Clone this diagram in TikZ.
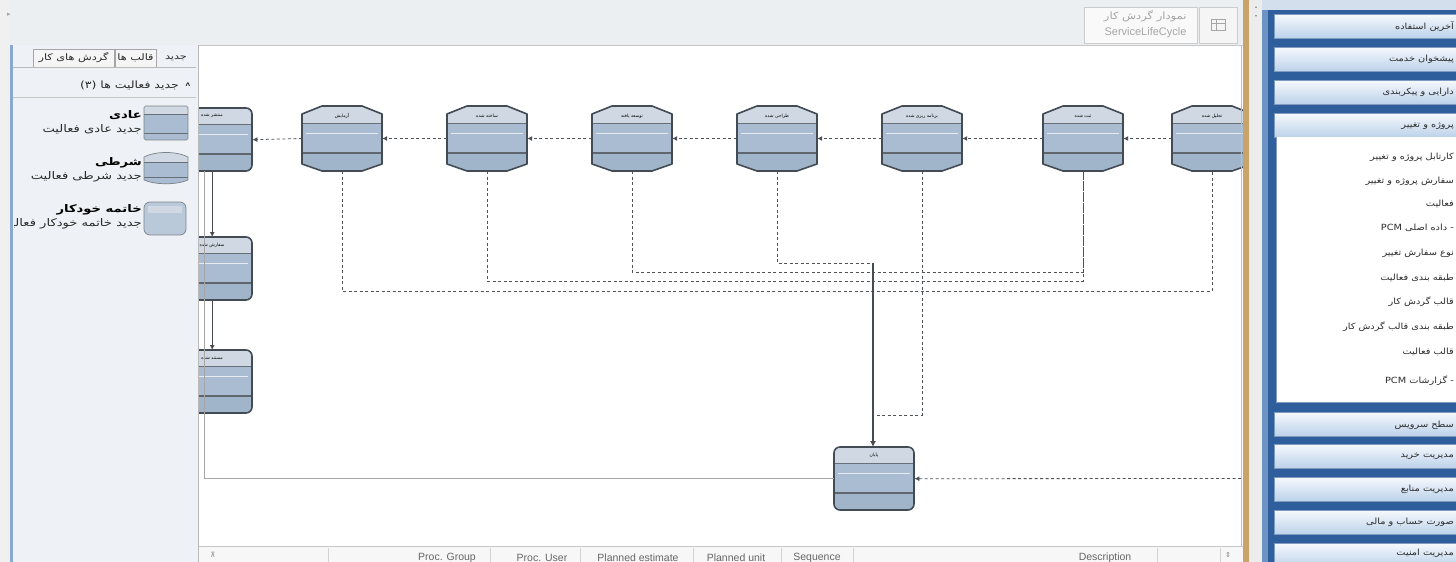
\documentclass[tikz,border=0pt]{standalone}
\usepackage{fontspec}
\setmainfont{Liberation Sans}
\newfontfamily\fa[Script=Arabic]{DejaVu Sans}
\newfontfamily\fal[Script=Arabic,FakeStretch=1.25]{DejaVu Sans}
\newfontfamily\far[Script=Arabic,FakeStretch=1.15]{DejaVu Sans}
\TeXXeTstate=1
\usetikzlibrary{arrows.meta}
\definecolor{topbg}{HTML}{ECEFF2}
\definecolor{panelbg}{HTML}{EEF2F6}
\definecolor{hdrc}{HTML}{CFD8E3}
\definecolor{bdyc}{HTML}{A9BCD1}
\definecolor{btmc}{HTML}{A1B5CA}
\definecolor{edgec}{HTML}{434B55}
\definecolor{connc}{HTML}{4E5358}
\definecolor{tanc}{HTML}{C9A46A}
\definecolor{blueA}{HTML}{2F5E9C}
\definecolor{blueB}{HTML}{6C93C4}
\definecolor{btnT}{HTML}{F6F9FD}
\definecolor{btnB}{HTML}{BCD2EA}
\definecolor{btnE}{HTML}{7F9CC0}
\definecolor{txtc}{HTML}{2A2A2A}
\tikzset{
  outline/.style={draw=edgec, line width=1.6pt},
  sepline/.style={draw=edgec!80, line width=0.8pt},
  septhick/.style={draw=edgec!85, line width=1.6pt},
  faintline/.style={draw=white!70!bdyc, line width=0.5pt},
  lbl/.style={font=\fa\fontsize{4.5}{5}\selectfont, text=black, inner sep=0pt},
  conn/.style={draw=connc, line width=0.8pt, dash pattern=on 3pt off 2.5pt},
  solidconn/.style={draw=connc!90!black, line width=1pt},
  thinconn/.style={draw=gray!70, line width=0.7pt},
  arr/.style={-{Latex[length=5pt,width=5pt]}},
  box/.style={shape=rectangle, inner sep=0pt, draw=none},
  btn/.style={top color=btnT, bottom color=btnB, draw=btnE, line width=0.6pt},
  rtxt/.style={font=\far\fontsize{8.5}{10}\selectfont, text=txtc, anchor=east, inner sep=0pt},
  ltxt/.style={font=\fal\fontsize{10.5}{12}\selectfont, text=txtc, anchor=east, inner sep=0pt},
  ltxtb/.style={font=\fal\bfseries\fontsize{10.5}{12}\selectfont, text=black, anchor=east, inner sep=0pt},
  tabtxt/.style={font=\fal\fontsize{9}{10}\selectfont, text=txtc, inner sep=0pt},
  colh/.style={font=\fontsize{10.5}{12}\selectfont, text=gray!80!black, inner sep=0pt},
  tabbox/.style={draw=gray!70, fill=white!92!gray, line width=0.5pt},
}
% rounded activity: name, x0, y0, label
\newcommand{\roundact}[4]{%
  \begin{scope}
    \clip[rounded corners=6pt] (#2,#3) rectangle ++(80,63);
    \fill[hdrc] (#2,#3) rectangle ++(80,16);
    \fill[bdyc] (#2,#3+16) rectangle ++(80,31);
    \fill[btmc] (#2,#3+47) rectangle ++(80,16);
    \draw[sepline] (#2,#3+16) -- ++(80,0);
    \draw[septhick] (#2,#3+46) -- ++(80,0);
    \draw[faintline] (#2+4,#3+26) -- ++(72,0);
  \end{scope}
  \draw[outline, rounded corners=6pt] (#2,#3) rectangle ++(80,63);
  \node[box, minimum width=80pt, minimum height=63pt, anchor=north west] (#1) at (#2,#3) {};
  \node[lbl] at (#2+40,#3+8) {#4};
}
% shield activity: name, cx, label
\newcommand{\shieldact}[3]{%
  \begin{scope}
    \clip (#2-40,114) -- (#2-20,106) -- (#2+20,106) -- (#2+40,114) -- (#2+40,164) -- (#2+20,171) -- (#2-20,171) -- (#2-40,164) -- cycle;
    \fill[hdrc] (#2-41,104) rectangle (#2+41,123);
    \fill[bdyc] (#2-41,123) rectangle (#2+41,153);
    \fill[btmc] (#2-41,153) rectangle (#2+41,173);
    \draw[sepline] (#2-41,123) -- (#2+41,123);
    \draw[septhick] (#2-41,153) -- (#2+41,153);
    \draw[faintline] (#2-36,133) -- (#2+36,133);
  \end{scope}
  \draw[outline, line join=round] (#2-40,114) -- (#2-20,106) -- (#2+20,106) -- (#2+40,114) -- (#2+40,164) -- (#2+20,171) -- (#2-20,171) -- (#2-40,164) -- cycle;
  \node[box, minimum width=80pt, minimum height=65pt] (#1) at (#2,138.5) {};
  \node[lbl] at (#2,116) {#3};
}
\begin{document}
\begin{tikzpicture}[x=1pt,y=-1pt]
\useasboundingbox (0,0) rectangle (1456,562);
% ---------- backgrounds ----------
\fill[topbg] (0,0) rectangle (1243,45);
\fill[gray!12] (0,0) rectangle (10,562);
\fill[white] (198,45) rectangle (1243,546);
\draw[gray!45, line width=0.6pt] (198,45.5) -- (1243,45.5);
\node[font=\fa\fontsize{7}{8}\selectfont, text=gray!70] (tri) at (9,15) {▸};
% title box
\draw[gray!40, fill=white!95!gray] (1084,7) rectangle (1197,43);
\node[font=\far\fontsize{10}{11}\selectfont, text=gray!70, anchor=east] (ttl) at (1190,16) {\beginR نمودار گردش کار\endR};
\node[font=\fontsize{11}{12}\selectfont, text=gray!70, anchor=east] (ttl2) at (1190,33) {ServiceLifeCycle};
\draw[gray!40, fill=white!92!gray] (1199,7) rectangle (1237,43);
\draw[gray!70, line width=0.5pt] (1211,19) rectangle (1225,30);
\draw[gray!70, line width=0.5pt] (1211,23) -- (1225,23) (1216,19) -- (1216,30);
% ---------- diagram ----------
\roundact{n1}{172}{108}{\beginR منتشر شده\endR}
\shieldact{n2}{342}{\beginR آزمایش\endR}
\shieldact{n3}{487}{\beginR ساخته شده\endR}
\shieldact{n4}{632}{\beginR توسعه یافته\endR}
\shieldact{n5}{777}{\beginR طراحی شده\endR}
\shieldact{n6}{922}{\beginR برنامه ریزی شده\endR}
\shieldact{n7}{1083}{\beginR ثبت شده\endR}
\shieldact{n8}{1212}{\beginR تحلیل شده\endR}
\roundact{n9}{172}{237}{\beginR سفارش شده\endR}
\roundact{n10}{172}{350}{\beginR مستند شده\endR}
\roundact{n11}{834}{447}{\beginR پایان\endR}
% horizontal chain
\draw[conn, arr] (n8.west) -- (n7.east);
\draw[conn, arr] (n7.west) -- (n6.east);
\draw[conn, arr] (n6.west) -- (n5.east);
\draw[conn, arr] (n5.west) -- (n4.east);
\draw[conn, arr] (n4.west) -- (n3.east);
\draw[conn, arr] (n3.west) -- (n2.east);
\draw[conn, arr] (n2.west) -- (n1.east);
% vertical chain on the left
\draw[solidconn, arr] (n1.south) -- (n9.north);
\draw[solidconn, arr] (n9.south) -- (n10.north);
% loops below
\coordinate (y272) at (0,272);
\coordinate (y281) at (0,281);
\coordinate (y291) at (0,291);
\coordinate (j1) at (873,263);
\coordinate (j2) at (873,415);
\draw[conn] (n4.south) -- (n4.south |- y272) -| (n7.south);
\draw[conn] (n3.south) -- (n3.south |- y281) -| (n7.south);
\draw[conn] (n2.south) -- (n2.south |- y291) -| (n8.south);
\draw[conn] (n5.south) |- (j1);
\draw[conn] (n6.south) |- (j2);
\draw[solidconn, line width=1.3pt, -{Latex[length=6pt,width=6pt]}] (j1) -- (j1 |- n11.north);
\coordinate (rin) at (1241,478.5);
\draw[conn, arr] (rin) -- (n11.east);
\coordinate (c204) at (204,171);
\draw[thinconn] (c204) |- (n11.west);
% canvas right edge
\draw[gray!50, line width=0.6pt] (1241,45) -- (1241,546);
% ---------- bottom grid header ----------
\fill[white!94!gray] (198,546) rectangle (1243,562);
\draw[gray!45, line width=0.6pt] (198,546.5) -- (1243,546.5);
\foreach \sx in {328,490,580,693,781,853,1157,1220} {\draw[gray!35, line width=0.5pt] (\sx,548) -- (\sx,562);}
\node[font=\fa\fontsize{7}{8}\selectfont, text=gray] (gicon) at (213,555) {⊼};
\node[colh] (h1) at (447,558) {Proc. Group};
\node[colh] (h2) at (542,558) {Proc. User};
\node[colh] (h3) at (638,558) {Planned estimate};
\node[colh] (h4) at (736,558) {Planned unit};
\node[colh] (h5) at (817,558) {Sequence};
\node[colh] (h6) at (1105,558) {Description};
\node[font=\fa\fontsize{7}{8}\selectfont, text=gray] (h7) at (1228,555) {⇕};
% ---------- left panel ----------
\fill[panelbg] (10,45) rectangle (198,562);
\draw[gray!55, line width=0.8pt] (198,45) -- (198,562);
% tabs
\draw[tabbox] (115,49) rectangle (156,67);
\draw[tabbox] (33,49) rectangle (114,67);
\node[tabtxt] (tab1) at (176,58) {\beginR جدید\endR};
\node[tabtxt] (tab2) at (135.5,58) {\beginR قالب ها\endR};
\node[tabtxt] (tab3) at (73.5,58) {\beginR گردش های کار\endR};
\draw[gray!55, line width=0.5pt] (13,67) -- (196,67);
% group header
\node[ltxt, font=\fal\fontsize{10}{11}\selectfont] (grp) at (179,85) {\beginR جدید فعالیت ها (۳)\endR};
\node[font=\bfseries\fontsize{8}{8}\selectfont, inner sep=0pt] (caret) at (188,86) {\^{}};
\draw[gray!45, line width=0.6pt] (13,97) -- (196,97);
% item icons
\begin{scope}
  \clip[rounded corners=1.5pt] (144,106) rectangle (188,140);
  \fill[hdrc] (144,106) rectangle (188,114);
  \fill[bdyc] (144,114) rectangle (188,140);
  \draw[sepline, line width=0.5pt] (144,114) -- (188,114);
  \draw[sepline, line width=0.8pt] (144,133) -- (188,133);
\end{scope}
\draw[edgec!70, line width=0.7pt, rounded corners=1.5pt] (144,106) rectangle (188,140);
\begin{scope}
  \clip (144,157) .. controls (155,151) and (177,151) .. (188,157) -- (188,180) .. controls (177,185) and (155,185) .. (144,180) -- cycle;
  \fill[hdrc] (143,150) rectangle (189,162);
  \fill[bdyc] (143,162) rectangle (189,186);
  \draw[sepline, line width=0.5pt] (143,162) -- (189,162);
  \draw[sepline, line width=0.8pt] (143,177) -- (189,177);
\end{scope}
\draw[edgec!70, line width=0.7pt] (144,157) .. controls (155,151) and (177,151) .. (188,157) -- (188,180) .. controls (177,185) and (155,185) .. (144,180) -- cycle;
\begin{scope}
  \clip[rounded corners=6pt] (144,202) rectangle (186,235);
  \fill[bdyc!80!white] (144,202) rectangle (186,235);
  \fill[hdrc] (148,206) rectangle (182,213);
\end{scope}
\draw[edgec!70, line width=0.7pt, rounded corners=6pt] (144,202) rectangle (186,235);
% item texts (clipped by the panel's left edge)
\begin{scope}
  \clip (14,100) rectangle (198,240);
  \node[ltxtb] (it1a) at (142,115) {\beginR عادی\endR};
  \node[ltxt] (it1b) at (142,129) {\beginR جدید عادی فعالیت\endR};
  \node[ltxtb] (it2a) at (142,163) {\beginR شرطی\endR};
  \node[ltxt] (it2b) at (142,177) {\beginR جدید شرطی فعالیت\endR};
  \node[ltxtb] (it3a) at (142,210) {\beginR خاتمه خودکار\endR};
  \node[ltxt] (it3b) at (142,224) {\beginR جدید خاتمه خودکار فعالیت\endR};
\end{scope}
\draw[blueB!80, line width=2.5pt] (11.5,45) -- (11.5,562);
% ---------- right side ----------
\fill[tanc] (1243,0) rectangle (1249,562);
\fill[white!85!gray] (1249,0) rectangle (1262,562);
\node[font=\fa\fontsize{4}{5}\selectfont, text=gray] (up1) at (1256,7) {▴};
\node[font=\fa\fontsize{4}{5}\selectfont, text=gray] (up2) at (1256,16) {▾};
\fill[blueA] (1262,0) rectangle (1456,562);
\fill[blueB] (1262,0) rectangle (1268,562);
\fill[white!70!blueB] (1262,0) rectangle (1456,10);
% buttons
\draw[btn] (1274,14) rectangle (1460,38);
\draw[btn] (1274,47) rectangle (1460,71);
\draw[btn] (1274,80) rectangle (1460,104);
\draw[btn] (1274,113) rectangle (1460,137);
\fill[white] (1276,137) rectangle (1460,402);
\draw[btnE, line width=0.6pt] (1276,137) -- (1276,402) -- (1460,402);
\draw[btn] (1274,412) rectangle (1460,436);
\draw[btn] (1274,444) rectangle (1460,468);
\draw[btn] (1274,477) rectangle (1460,501);
\draw[btn] (1274,510) rectangle (1460,534);
\draw[btn] (1274,543) rectangle (1460,567);
\node[rtxt] (b1) at (1454,27) {\beginR آخرین استفاده\endR};
\node[rtxt] (b2) at (1454,59) {\beginR پیشخوان خدمت\endR};
\node[rtxt] (b3) at (1454,92) {\beginR دارایی و پیکربندی\endR};
\node[rtxt] (b4) at (1454,126) {\beginR پروژه و تغییر\endR};
\node[rtxt] (l1) at (1454,157) {\beginR کارتابل پروژه و تغییر\endR};
\node[rtxt] (l2) at (1454,181) {\beginR سفارش پروژه و تغییر\endR};
\node[rtxt] (l3) at (1454,204) {\beginR فعالیت\endR};
\node[rtxt] (l4) at (1454,228) {\beginR - داده اصلی \beginL PCM\endL\endR};
\node[rtxt] (l5) at (1454,253) {\beginR نوع سفارش تغییر\endR};
\node[rtxt] (l6) at (1454,278) {\beginR طبقه بندی فعالیت\endR};
\node[rtxt] (l7) at (1454,302) {\beginR قالب گردش کار\endR};
\node[rtxt] (l8) at (1454,327) {\beginR طبقه بندی قالب گردش کار\endR};
\node[rtxt] (l9) at (1454,352) {\beginR قالب فعالیت\endR};
\node[rtxt] (l10) at (1454,381) {\beginR - گزارشات \beginL PCM\endL\endR};
\node[rtxt] (b5) at (1454,425) {\beginR سطح سرویس\endR};
\node[rtxt] (b6) at (1454,456) {\beginR مدیریت خرید\endR};
\node[rtxt] (b7) at (1454,489) {\beginR مدیریت منابع\endR};
\node[rtxt] (b8) at (1454,522) {\beginR صورت حساب و مالی\endR};
\node[rtxt] (b9) at (1454,553) {\beginR مدیریت امنیت\endR};
\end{tikzpicture}
\end{document}
